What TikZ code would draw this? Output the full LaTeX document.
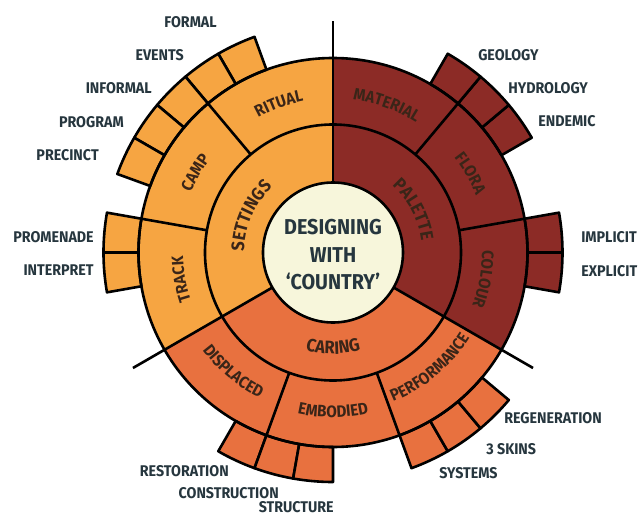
\documentclass[tikz,border=0pt]{standalone}
\usepackage{fontspec}
\setmainfont{Fira Sans}[FakeStretch=0.92]
\usetikzlibrary{decorations.text}
\definecolor{settings}{rgb}{0.965, 0.647, 0.259}
\definecolor{palette}{rgb}{0.549, 0.169, 0.149}
\definecolor{caring}{rgb}{0.910, 0.443, 0.247}
\definecolor{hub}{rgb}{0.969, 0.965, 0.859}
\definecolor{ink}{rgb}{0.149, 0.212, 0.243}
\definecolor{ringink}{rgb}{0.227, 0.145, 0.094}

\newcommand\hubfont{\fontsize{21.5}{27.5}\selectfont\bfseries}
\newcommand\trunkfont{\fontsize{18}{18}\selectfont\bfseries}
\newcommand\branchfont{\fontsize{16.5}{16.5}\selectfont\bfseries}
\newcommand\leaffont{\fontsize{15.5}{15.5}\selectfont\bfseries}

\tikzset{
  leaf/.style={font=\leaffont, text=ink, inner sep=0pt},
  ringtext/.style={decorate, decoration={text along path, text align=center, text color=ringink, text={#1}}},
}

\begin{document}
\begin{tikzpicture}[x=1pt, y=1pt, line width=2.6pt, line join=round]
  \useasboundingbox (-333,-264.5) rectangle (305,252.5);
  % the three main sectors
  \foreach \a/\b/\col in {90/210/settings, -30/90/palette, 210/330/caring}
    \fill[\col] (\a:70) arc[start angle=\a, end angle=\b, radius=70] -- (\b:194.5) arc[start angle=\b, end angle=\a, radius=194.5] -- cycle;
  % outer blocks, 10 degrees each
  \foreach \a/\col in {110/settings, 120/settings, 130/settings, 140/settings, 150/settings, 170/settings, 180/settings,
                       30/palette, 40/palette, 50/palette, -10/palette, 0/palette,
                       240/caring, 250/caring, 260/caring, 290/caring, 300/caring, 310/caring}
    \filldraw[fill=\col] (\a:194.5) arc[start angle=\a, end angle=\a+10, radius=194.5] -- (\a+10:229.5) arc[start angle=\a+10, end angle=\a, radius=229.5] -- cycle;
  \draw (0,0) circle[radius=128] (0,0) circle[radius=194.5];
  \foreach \a in {130,170,50,10,250,290}
    \draw (\a:128) -- (\a:194.5);
  \foreach \a in {90,210,330}
    \draw (\a:70) -- (\a:231);
  \filldraw[fill=hub] (0,0) circle[radius=70];
  \node[font=\hubfont, text=ink, align=center] (title) at (0,-2.5) {DESIGNING\\WITH\\‘COUNTRY’};

  % inner ring
  \path[ringtext={|\trunkfont|SETTINGS}] (201:89) arc[start angle=201, end angle=111, radius=89];
  \path[ringtext={|\trunkfont|PALETTE}] (73:89) arc[start angle=73, end angle=-17, radius=89];
  \path[ringtext={|\trunkfont|CARING}] (225:101.5) arc[start angle=225, end angle=315, radius=101.5];
  % middle ring
  \path[ringtext={|\branchfont|RITUAL}] (145:154) arc[start angle=145, end angle=75, radius=154];
  \path[ringtext={|\branchfont|CAMP}] (185:154) arc[start angle=185, end angle=115, radius=154];
  \path[ringtext={|\branchfont|TRACK}] (225:150) arc[start angle=225, end angle=155, radius=150];
  \path[ringtext={|\branchfont|MATERIAL}] (105:154) arc[start angle=105, end angle=35, radius=154];
  \path[ringtext={|\branchfont|FLORA}] (65:154) arc[start angle=65, end angle=-5, radius=154];
  \path[ringtext={|\branchfont|COLOUR}] (25:149) arc[start angle=25, end angle=-45, radius=149];
  \path[ringtext={|\branchfont|DISPLACED}] (195:163) arc[start angle=195, end angle=265, radius=163];
  \path[ringtext={|\branchfont|EMBODIED}] (235:165) arc[start angle=235, end angle=305, radius=165];
  \path[ringtext={|\branchfont|PERFORMANCE}] (275:161) arc[start angle=275, end angle=345, radius=161];

  % outer labels
  \foreach \x/\y/\txt [count=\i] in {-115/230/FORMAL, -148/197.5/EVENTS, -180/164/INFORMAL, -208/130.5/PROGRAM,
      -233/97.5/PRECINCT, -238/15.5/PROMENADE, -238/-17.5/INTERPRET,
      -103/-218.5/RESTORATION, -53/-240.5/CONSTRUCTION, 2/-254.5/STRUCTURE}
    \node[leaf, anchor=east] (west\i) at (\x,\y) {\txt};
  \foreach \x/\y/\txt [count=\i] in {144/197.5/GEOLOGY, 174/164.5/HYDROLOGY, 204/131.5/ENDEMIC,
      247/15.5/IMPLICIT, 247/-18.5/EXPLICIT,
      170/-165.5/REGENERATION, 152/-196.5/3 SKINS, 105/-220.5/SYSTEMS}
    \node[leaf, anchor=west] (east\i) at (\x,\y) {\txt};
\end{tikzpicture}
\end{document}
